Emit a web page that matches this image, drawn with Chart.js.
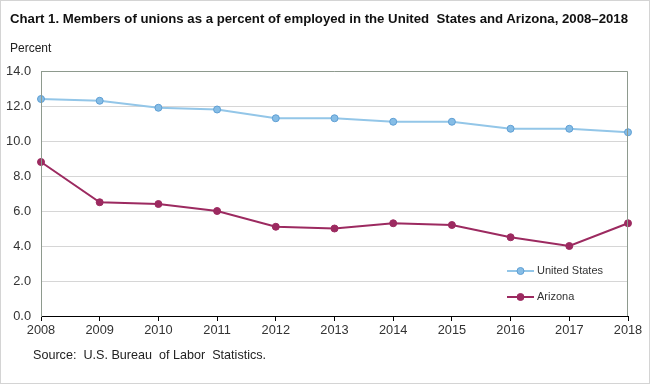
<!DOCTYPE html>
<html>
<head>
<meta charset="utf-8">
<script src="https://cdn.jsdelivr.net/npm/chart.js@4/dist/chart.umd.min.js"></script>
<style>
  html, body { margin: 0; padding: 0; background: #fff; }
  #wrap { position: relative; width: 650px; height: 384px; box-sizing: border-box; border: 1px solid #d4d4d4; font-family: "Liberation Sans", Arial, sans-serif; }
  #title { position: absolute; left: 9px; top: 10px; font-size: 13.2px; font-weight: bold; color: #111; white-space: nowrap; }
  #unit { position: absolute; left: 9px; top: 40px; font-size: 12px; color: #222; }
  #source { position: absolute; left: 32px; top: 347px; font-size: 12.6px; color: #222; white-space: nowrap; }
  canvas { position: absolute; left: 0; top: 0; }
</style>
</head>
<body>
<div id="wrap">
  <canvas id="chart" width="648" height="382"></canvas>
  <div id="title">Chart 1. Members of unions as a percent of employed in the United&nbsp; States and Arizona, 2008–2018</div>
  <div id="unit">Percent</div>
  <div id="source">Source:&nbsp; U.S. Bureau&nbsp; of Labor&nbsp; Statistics.</div>
</div>
<script>
const years = ['2008', '2009', '2010', '2011', '2012', '2013', '2014', '2015', '2016', '2017', '2018'];
const unitedStates = [12.4, 12.3, 11.9, 11.8, 11.3, 11.3, 11.1, 11.1, 10.7, 10.7, 10.5];
const arizona = [8.8, 6.5, 6.4, 6.0, 5.1, 5.0, 5.3, 5.2, 4.5, 4.0, 5.3];

const usBlue = '#93c6e8';
const usPoint = '#86bde6';
const usEdge = '#5f9fd4';
const azPurple = '#9c2a60';

// legend drawn inside the plot, bottom right
const insideLegend = {
    id: 'insideLegend',
    afterDraw(chart) {
        const ctx = chart.ctx;
        const a = chart.chartArea;
        // plot frame
        ctx.save();
        ctx.strokeStyle = '#8e9a8e';
        ctx.lineWidth = 1;
        ctx.beginPath();
        ctx.moveTo(a.left + 0.5, a.bottom);
        ctx.lineTo(a.left + 0.5, a.top + 0.5);
        ctx.lineTo(a.right - 0.5, a.top + 0.5);
        ctx.lineTo(a.right - 0.5, a.bottom);
        ctx.stroke();

        const items = [
            { y: a.top + 200, ds: chart.data.datasets[0] },
            { y: a.top + 226, ds: chart.data.datasets[1] }
        ];
        const x0 = a.left + 466;
        items.forEach(it => {
            ctx.strokeStyle = it.ds.borderColor;
            ctx.lineWidth = it.ds.borderWidth;
            ctx.beginPath();
            ctx.moveTo(x0, it.y);
            ctx.lineTo(x0 + 27, it.y);
            ctx.stroke();
            ctx.beginPath();
            ctx.arc(x0 + 13.5, it.y, 3.5, 0, Math.PI * 2);
            ctx.fillStyle = it.ds.pointBackgroundColor;
            ctx.fill();
            ctx.strokeStyle = it.ds.pointBorderColor;
            ctx.lineWidth = 1;
            ctx.stroke();
            ctx.fillStyle = '#333';
            ctx.font = '11px "Liberation Sans", Arial, sans-serif';
            ctx.textBaseline = 'middle';
            ctx.fillText(it.ds.label, x0 + 30, it.y);
        });
        ctx.restore();
    }
};

new Chart(document.getElementById('chart'), {
    type: 'line',
    data: {
        labels: years,
        datasets: [
            {
                label: 'United States',
                data: unitedStates,
                borderColor: usBlue,
                borderWidth: 2,
                pointBackgroundColor: usPoint,
                pointBorderColor: usEdge,
                pointBorderWidth: 1,
                pointRadius: 3.5,
                tension: 0
            },
            {
                label: 'Arizona',
                data: arizona,
                borderColor: azPurple,
                borderWidth: 2,
                pointBackgroundColor: azPurple,
                pointBorderColor: azPurple,
                pointBorderWidth: 1,
                pointRadius: 3.5,
                tension: 0
            }
        ]
    },
    options: {
        responsive: false,
        animation: false,
        layout: { padding: { top: 70, right: 21, bottom: 0, left: 0 } },
        plugins: { legend: { display: false }, tooltip: { enabled: false } },
        scales: {
            x: {
                offset: false,
                afterFit: s => { s.height = 67; },
                grid: { drawOnChartArea: false, drawTicks: true, tickLength: 5, color: '#000' },
                border: { color: '#000', width: 1 },
                ticks: { color: '#333', font: { family: '"Liberation Sans", Arial, sans-serif', size: 12.8 }, padding: 2, maxRotation: 0, autoSkip: false }
            },
            y: {
                min: 0,
                max: 14,
                afterFit: s => { s.width = 40; },
                grid: { color: '#d6d6d6', drawTicks: false },
                border: { color: '#8e9a8e' },
                ticks: {
                    stepSize: 2,
                    padding: 10,
                    color: '#333',
                    font: { family: '"Liberation Sans", Arial, sans-serif', size: 12.8 },
                    callback: v => v.toFixed(1)
                }
            }
        }
    },
    plugins: [insideLegend]
});
</script>
</body>
</html>
